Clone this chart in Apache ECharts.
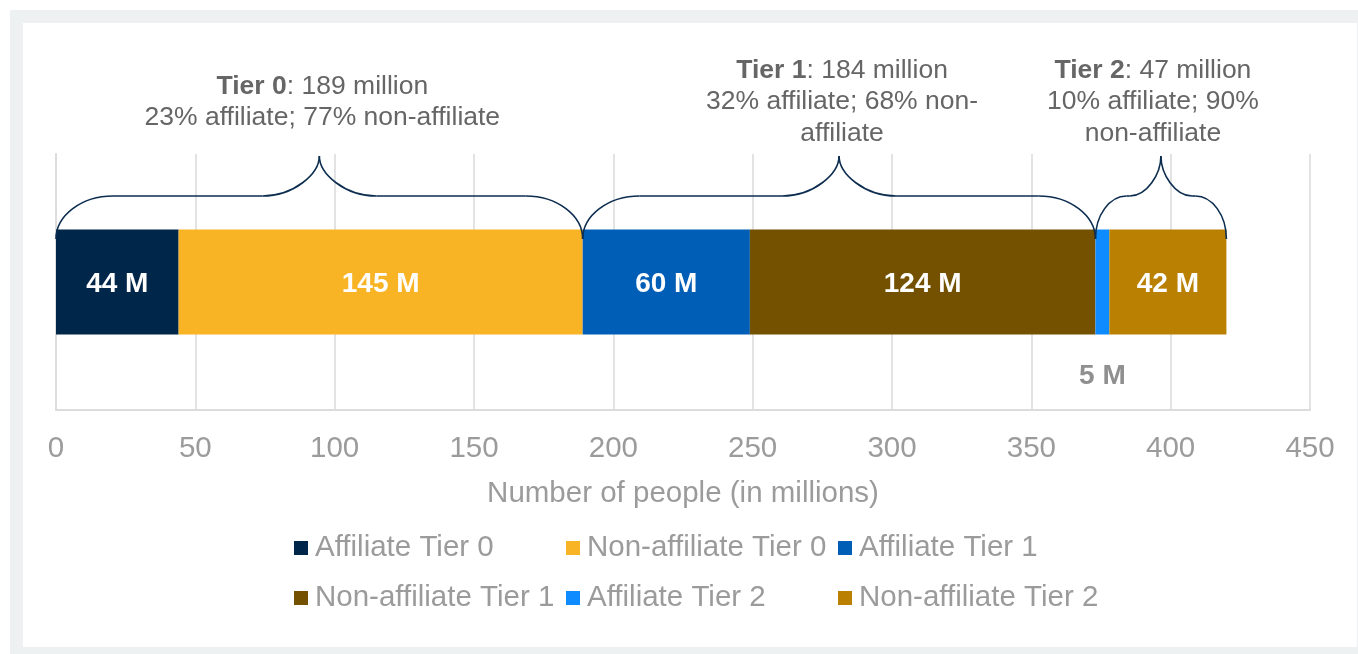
<!DOCTYPE html>
<html>
<head>
<meta charset="utf-8">
<title>Population by tier</title>
<script src="https://cdn.jsdelivr.net/npm/echarts@6/dist/echarts.min.js"></script>
<style>
  html, body { margin: 0; padding: 0; background: #ffffff; }
  #frame { position: absolute; left: 10px; top: 10px; width: 1348px; height: 644px; background: #eef1f1; }
  #panel { position: absolute; left: 23px; top: 23px; width: 1334px; height: 624px; background: #ffffff; }
  #chart { position: absolute; left: 0; top: 0; width: 1358px; height: 654px; }
</style>
</head>
<body>
<div id="frame"></div>
<div id="panel"></div>
<div id="chart"></div>
<script>
// Stacked horizontal bar: people (millions) by affiliation and tier
const categories = ['People'];
const seriesNames = [
  'Affiliate Tier 0', 'Non-affiliate Tier 0',
  'Affiliate Tier 1', 'Non-affiliate Tier 1',
  'Affiliate Tier 2', 'Non-affiliate Tier 2'
];
const seriesValues = [44, 145, 60, 124, 5, 42];
const seriesColors = ['#00264a', '#f8b424', '#005eb6', '#735100', '#0d8bff', '#b98002'];

const tierNames = ['Tier 0', 'Tier 1', 'Tier 2'];
const tierTotals = [189, 184, 47];
const tierShareLines = [
  '23% affiliate; 77% non-affiliate',
  '32% affiliate; 68% non-\naffiliate',
  '10% affiliate; 90%\nnon-affiliate'
];

const axisMin = 0, axisMax = 450, axisStep = 50;
const axisTitle = 'Number of people (in millions)';

const FONT = '"Liberation Sans", Arial, sans-serif';

// tier spans along the value axis, from the stacked segments (two per tier)
const tierSpans = [];
let run = 0;
for (let t = 0; t < tierNames.length; t++) {
  const start = run;
  run += seriesValues[2 * t] + seriesValues[2 * t + 1];
  tierSpans.push([start, run, 0, t]);
}

const barSeries = seriesNames.map((name, i) => ({
  name: name,
  type: 'bar',
  stack: 'all',
  barWidth: 105,
  itemStyle: { color: seriesColors[i] },
  label: i === 4 ? {
    show: true, position: 'bottom', distance: 28,
    formatter: '{c} M', color: '#8f8f8f', fontWeight: 'bold', fontSize: 28, fontFamily: FONT
  } : {
    show: true, position: 'inside', offset: [0, 2],
    formatter: '{c} M', color: '#ffffff', fontWeight: 'bold', fontSize: 28, fontFamily: FONT
  },
  emphasis: { disabled: true },
  data: [seriesValues[i]]
}));

// curly brace above each tier span, with the tier summary text over it
function renderBrace(params, api) {
  const a = api.coord([api.value(0), api.value(2)]);
  const b = api.coord([api.value(1), api.value(2)]);
  const t = api.value(3);
  const cy = a[1];
  const x0 = a[0], x1 = b[0], xm = (x0 + x1) / 2;
  const yb = cy - 43, yh = cy - 86, yp = cy - 126;
  const rx = Math.min(57, (x1 - x0) / 4.2);
  const k = 0.55;
  const st = { stroke: '#0c2d4f', lineWidth: 1.6, fill: null };
  const curve = (p0, c1, c2, p3) => ({
    type: 'bezierCurve',
    shape: { x1: p0[0], y1: p0[1], cpx1: c1[0], cpy1: c1[1], cpx2: c2[0], cpy2: c2[1], x2: p3[0], y2: p3[1] },
    style: st
  });
  const line = (p, q) => ({ type: 'line', shape: { x1: p[0], y1: p[1], x2: q[0], y2: q[1] }, style: st });
  const lyb = yb - yh, lyp = yh - yp;
  const textShift = t === 2 ? -8 : 3;
  const kids = [
    curve([x0, yb], [x0, yb - k * lyb], [x0 + rx - k * rx, yh], [x0 + rx, yh]),
    line([x0 + rx, yh], [xm - rx, yh]),
    curve([xm - rx, yh], [xm - rx + k * rx, yh], [xm, yh - k * lyp], [xm, yp]),
    curve([xm, yp], [xm, yh - k * lyp], [xm + rx - k * rx, yh], [xm + rx, yh]),
    line([xm + rx, yh], [x1 - rx, yh]),
    curve([x1 - rx, yh], [x1 - rx + k * rx, yh], [x1, yb - k * lyb], [x1, yb]),
    {
      type: 'text',
      x: xm + textShift,
      y: cy - 180,
      style: {
        text: '{b|' + tierNames[t] + '}: ' + tierTotals[t] + ' million\n' + tierShareLines[t],
        rich: { b: { fontWeight: 'bold', fontSize: 26.5, fontFamily: FONT, fill: '#666666', lineHeight: 31.5 } },
        fill: '#666666',
        fontSize: 26.5,
        fontFamily: FONT,
        lineHeight: 31.5,
        align: 'center',
        verticalAlign: 'middle'
      }
    }
  ];
  return { type: 'group', children: kids };
}

const chart = echarts.init(document.getElementById('chart'), null, { renderer: 'canvas' });
chart.setOption({
  backgroundColor: 'transparent',
  animation: false,
  textStyle: { fontFamily: FONT },
  grid: { left: 56, right: 48, top: 154, bottom: 244, containLabel: false },
  legend: {
    data: seriesNames,
    left: 289,
    top: 518,
    width: 820,
    itemGap: 0,
    itemWidth: 14,
    itemHeight: 14,
    icon: 'rect',
    selectedMode: false,
    textStyle: { color: '#9b9b9b', fontSize: 29.5, fontFamily: FONT, width: 251, lineHeight: 50, padding: [0, 0, 0, 2] }
  },
  xAxis: {
    type: 'value',
    min: axisMin,
    max: axisMax,
    interval: axisStep,
    name: axisTitle,
    nameLocation: 'middle',
    nameGap: 69,
    nameTextStyle: { color: '#9b9b9b', fontSize: 29.5, fontFamily: FONT },
    axisLine: { show: true, lineStyle: { color: '#dcdcdc', width: 2 } },
    axisTick: { show: false },
    axisLabel: { color: '#9b9b9b', fontSize: 29.5, fontFamily: FONT, margin: 24 },
    splitLine: { show: true, lineStyle: { color: '#e3e3e3', width: 2 } }
  },
  yAxis: {
    type: 'category',
    data: categories,
    axisLine: { show: true, lineStyle: { color: '#dcdcdc', width: 2 } },
    axisTick: { show: false },
    axisLabel: { show: false }
  },
  series: barSeries.concat([{
    type: 'custom',
    name: 'braces',
    renderItem: renderBrace,
    clip: false,
    silent: true,
    z: 5,
    encode: { x: [0, 1], y: 2 },
    data: tierSpans
  }])
});
</script>
</body>
</html>
